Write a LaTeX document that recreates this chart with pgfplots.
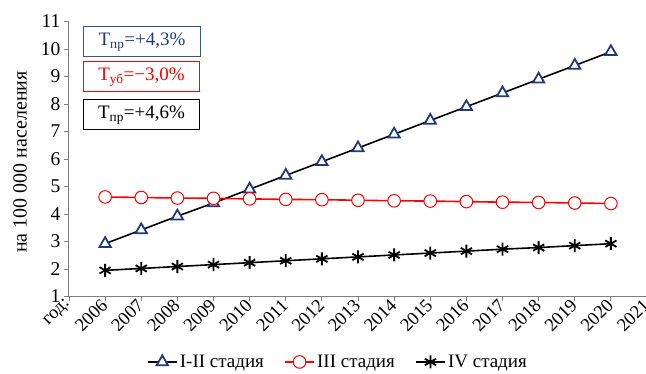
\documentclass[border=0pt]{standalone}
\usepackage{pgfplots}
\pgfplotsset{compat=1.18}
\usepackage{fontspec}
\setmainfont{Liberation Serif}
\definecolor{navyb}{HTML}{1F3A7A}
\definecolor{boxblue}{HTML}{3B5580}
\definecolor{axgray}{HTML}{7F7F7F}
\definecolor{redl}{HTML}{FF0000}
\begin{document}
\begin{tikzpicture}
\begin{axis}[
  at={(0,0)}, anchor=south west,
  scale only axis, width=578pt, height=275pt,
  xmin=0, xmax=16, ymin=1, ymax=11,
  axis lines*=left,
  axis line style={axgray, line width=1pt},
  tick style={axgray, line width=0.8pt},
  tick align=outside, major tick length=5pt,
  xtick={0,...,16},
  xticklabels={год:,2006,2007,2008,2009,2010,2011,2012,2013,2014,2015,2016,2017,2018,2019,2020,2021},
  x tick label style={rotate=45, anchor=east, font=\fontsize{18.5}{20}\selectfont, inner sep=1pt},
  ytick={1,...,11},
  y tick label style={font=\fontsize{19.5}{21}\selectfont},
  /pgf/number format/assume math mode=true,
  clip=false,
  legend columns=3,
  legend style={at={(0.465,-0.238)}, anchor=center, draw=none, fill=none,
    font=\fontsize{19}{21}\selectfont, /tikz/every even column/.append style={column sep=18pt}},
  legend image code/.code={\draw[mark repeat=2,mark phase=2,#1] plot coordinates {(0cm,0cm)(0.52cm,0cm)(1.04cm,0cm)};},
]
\addplot[black, line width=1.6pt, mark=triangle*, mark size=6.5pt,
  mark options={draw=navyb, fill=white, line width=1.8pt}]
 coordinates {(1,2.92)(2,3.42)(3,3.92)(4,4.4)(5,4.9)(6,5.4)(7,5.9)(8,6.4)(9,6.9)(10,7.4)(11,7.9)(12,8.4)(13,8.9)(14,9.4)(15,9.9)};
\addlegendentry{I-II стадия}
\addplot[redl, line width=1.6pt, mark=*, mark size=6.3pt,
  mark options={draw=redl, fill=white, line width=1pt}]
 coordinates {(1,4.62)(2,4.6)(3,4.58)(4,4.57)(5,4.55)(6,4.53)(7,4.52)(8,4.5)(9,4.48)(10,4.47)(11,4.45)(12,4.43)(13,4.42)(14,4.4)(15,4.38)};
\addlegendentry{III стадия}
\addplot[black, line width=1.6pt, mark=asterisk, mark size=6.5pt,
  mark options={black, line width=1.8pt}]
 coordinates {(1,1.95)(2,2.02)(3,2.09)(4,2.16)(5,2.23)(6,2.3)(7,2.37)(8,2.44)(9,2.51)(10,2.58)(11,2.65)(12,2.72)(13,2.78)(14,2.85)(15,2.92)};
\addlegendentry{IV стадия}
\end{axis}
\node[draw=boxblue, line width=1pt, text=navyb, minimum width=116pt, minimum height=30pt, font=\fontsize{19}{21}\selectfont] at (73pt,254.5pt) {T\textsubscript{пр}=+4,3\%};
\node[draw=redl, line width=1pt, text=redl, minimum width=115pt, minimum height=30pt, font=\fontsize{19}{21}\selectfont] at (72.5pt,219.5pt) {T\textsubscript{уб}=−3,0\%};
\node[draw=black, line width=1pt, text=black, minimum width=115pt, minimum height=30pt, font=\fontsize{19}{21}\selectfont] at (72.5pt,181.5pt) {T\textsubscript{пр}=+4,6\%};
\node[rotate=90, font=\fontsize{20}{22}\selectfont] at (-49pt,134.5pt) {на 100 000 населения};
\pgfresetboundingbox
\path (-69pt,-77.5pt) rectangle (577pt,296.5pt);
\end{tikzpicture}
\end{document}
